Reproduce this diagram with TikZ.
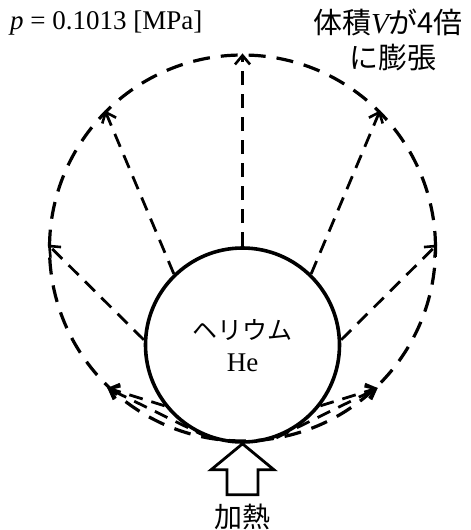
\documentclass[tikz,border=0pt]{standalone}
\usepackage{fontspec}
\setmainfont{Liberation Serif}
\newfontfamily\jp{Noto Sans CJK JP}
\usetikzlibrary{arrows.meta,calc}
\begin{document}
\begin{tikzpicture}[x=1pt,y=-1pt,
  solidc/.style={circle,draw,line width=3.6pt,minimum size=194pt,inner sep=0pt},
  bigc/.style={circle,draw,line width=3.2pt,dash pattern=on 17pt off 11pt,minimum size=386pt,inner sep=0pt},
  ray/.style={line width=2.8pt,dash pattern=on 14pt off 9pt,-{Straight Barb[length=9pt,width=15pt,line width=2.6pt]}},
  jplabel/.style={font=\jp\fontsize{29}{31}\selectfont,inner sep=0pt},
  serlabel/.style={font=\rmfamily\fontsize{27}{29}\selectfont,inner sep=0pt},
  heatarrow/.style={draw,line width=2.8pt,line join=miter,fill=white}]
\useasboundingbox (0,0) rectangle (471,530);
\node[bigc] (big) at (242.5,248) {};
\node[solidc] (he) at (242.5,345) {};
\node[jplabel,font=\jp\fontsize{25}{27}\selectfont] (hename) at (242.5,330) {ヘリウム};
\node[serlabel] (hesym) at (242.5,363) {He};
\draw[ray] (he.90) -- (big.90);
\draw[ray] (he.134) -- (big.135);
\draw[ray] (he.46) -- (big.45);
\draw[ray] (he.177) -- (big.179);
\draw[ray] (he.3) -- (big.1);
\draw[ray] (he.218) -- (big.226);
\draw[ray] (he.250) -- (big.226);
\draw[ray] (he.322) -- (big.314);
\draw[ray] (he.290) -- (big.314);
\coordinate (tip) at (he.south);
\draw[heatarrow] (tip) -- ++(31.5,26) -- ++(-16,0) -- ++(0,25) -- ++(-31,0) -- ++(0,-25) -- ++(-16,0) -- cycle;
\node[jplabel,font=\jp\fontsize{28}{30}\selectfont] (heat) at (242.5,517) {加熱};
\node[serlabel,anchor=base west] (plabel) at (10,29) {\textit{p} = 0.1013 [MPa]};
\node[jplabel] (vol) at (388,22) {体積{\rmfamily\itshape V}が4倍};
\node[jplabel] (expand) at (393,58) {に膨張};
\end{tikzpicture}
\end{document}
